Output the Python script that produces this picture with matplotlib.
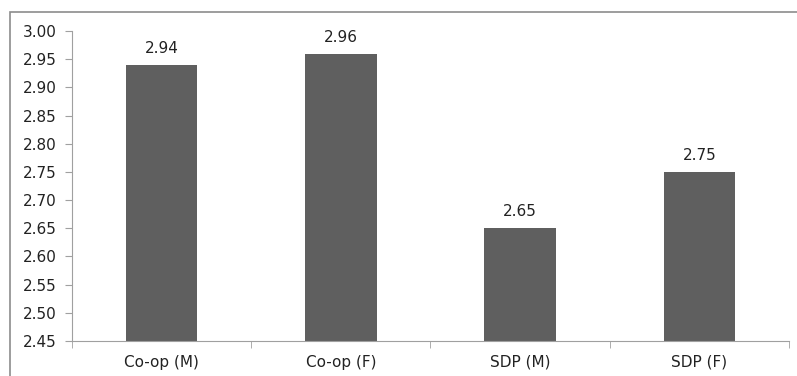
import matplotlib
matplotlib.use('Agg')
import matplotlib.pyplot as plt
import numpy as np

categories = ['Co-op (M)', 'Co-op (F)', 'SDP (M)', 'SDP (F)']
values = [2.94, 2.96, 2.65, 2.75]
yticks = [2.45, 2.50, 2.55, 2.60, 2.65, 2.70, 2.75, 2.80, 2.85, 2.90, 2.95, 3.00]

plt.rcParams['font.family'] = 'DejaVu Sans'
fig = plt.figure(figsize=(7.97, 3.76), dpi=100)
ax = fig.add_axes([0.0903, 0.0931, 0.8997, 0.8245])

x = np.arange(len(categories))
ax.bar(x, values, width=0.4, color='#5f5f5f')
for xi, v in zip(x, values):
    ax.text(xi, v + 0.016, '%.2f' % v, ha='center', va='bottom', fontsize=11, color='#222222')

ax.set_ylim(2.45, 3.00)
ax.set_xlim(-0.5, len(categories) - 0.5)
ax.set_yticks(yticks)
ax.set_yticklabels(['%.2f' % t for t in yticks], fontsize=11, color='#222222')
ax.set_xticks(x)
ax.set_xticklabels(categories, fontsize=11, color='#222222')
ax.set_xticks(np.arange(-0.5, len(categories)), minor=True)
ax.tick_params(axis='x', which='major', length=0, pad=10)
ax.tick_params(axis='x', which='minor', length=5, color='#a0a0a0')
ax.tick_params(axis='y', length=5, color='#a0a0a0', pad=6)
for s in ['top', 'right']:
    ax.spines[s].set_visible(False)
for s in ['left', 'bottom']:
    ax.spines[s].set_color('#a0a0a0')

# outer frame
fig.patches.append(plt.Rectangle((10 / 797, -0.1), 1.2, 1 - 12 / 376 + 0.1,
                                 transform=fig.transFigure, fill=False,
                                 edgecolor='#8c8c8c', linewidth=1.2))

fig.savefig('out.png', dpi=100)
